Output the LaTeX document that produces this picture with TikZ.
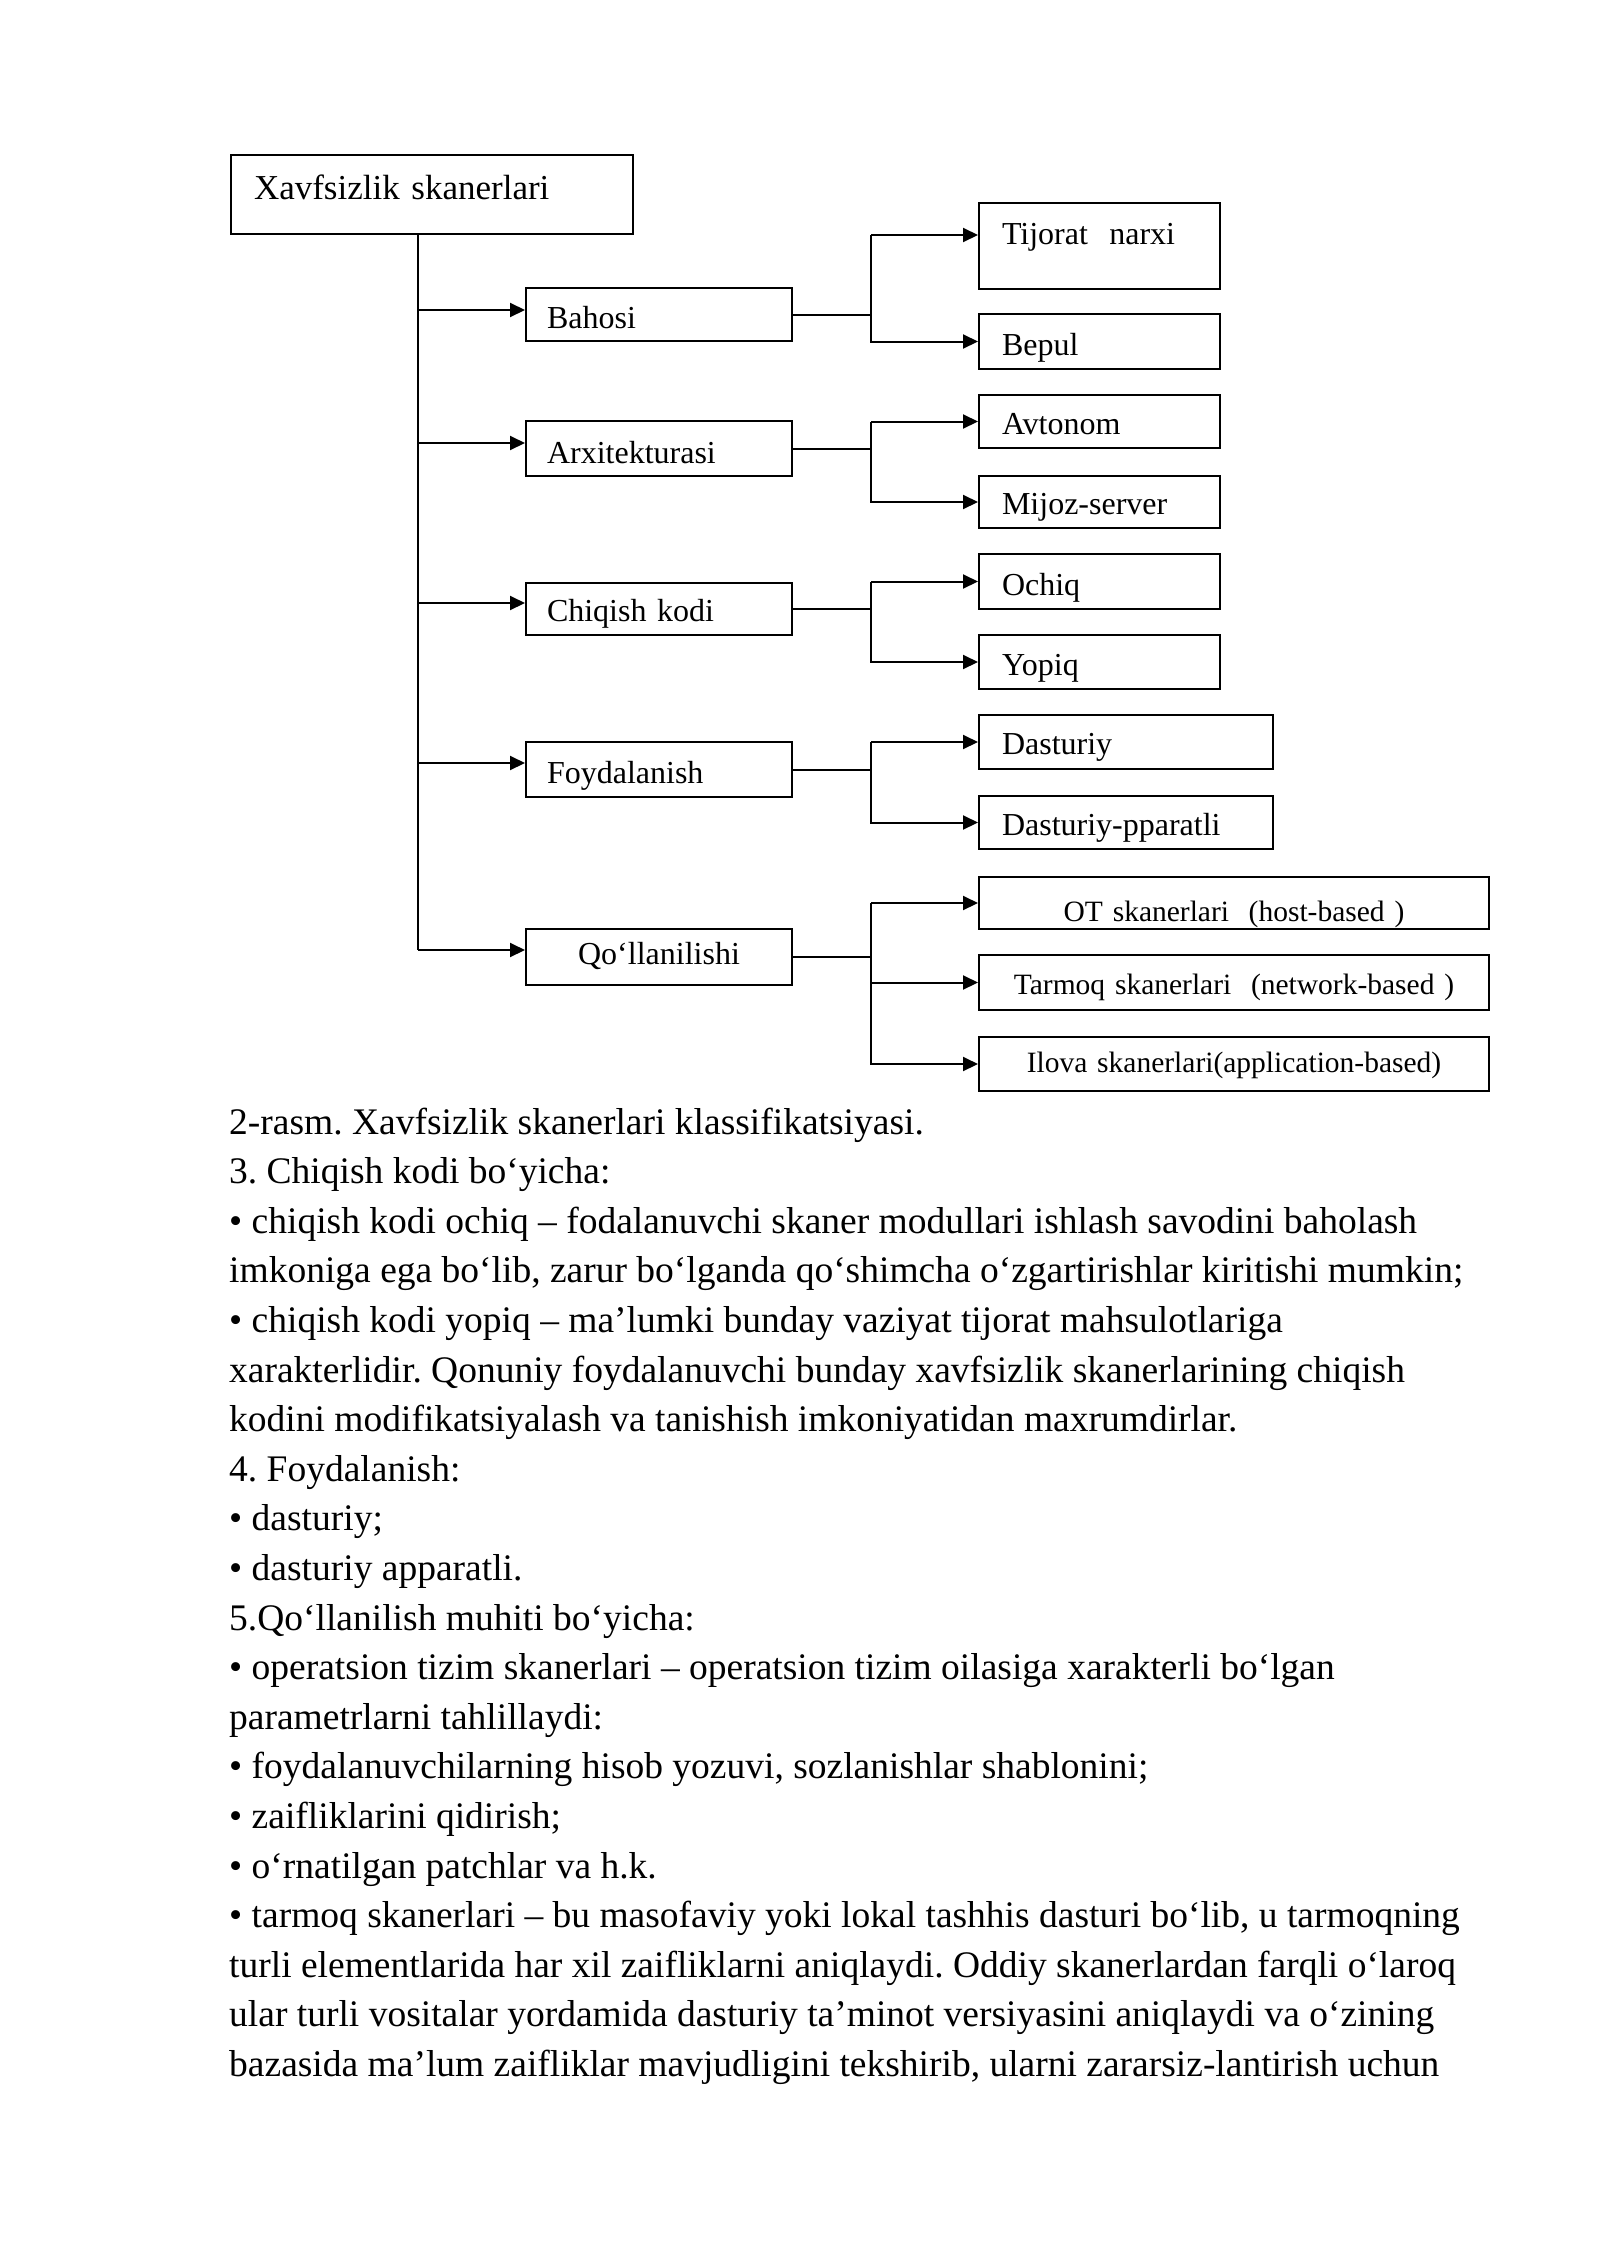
\documentclass[tikz,border=0pt]{standalone}
\usepackage{fontspec}
\setmainfont{Liberation Serif}
\usetikzlibrary{arrows.meta}
\frenchspacing
\newcommand\lblfont{\fontsize{32pt}{38pt}\selectfont}
\newcommand\ttlfont{\fontsize{35pt}{40pt}\selectfont}
\newcommand\smlfont{\fontsize{29.5pt}{35pt}\selectfont}
\newcommand\bodyfont{\fontsize{37.5pt}{49.6pt}\selectfont}
\begin{document}
\begin{tikzpicture}[x=1pt,y=-1pt,
  box/.style={draw,line width=2pt,anchor=north west,inner ysep=0pt,text depth=0pt,font=\lblfont,align=left},
  midbox/.style={box,minimum width=266pt,inner xsep=21pt,text width=224pt},
  rbox/.style={box,minimum width=241pt,inner xsep=23pt,text width=195pt},
  wbox/.style={box,minimum width=294pt,inner xsep=23pt,text width=248pt},
  xbox/.style={box,minimum width=510pt,inner xsep=20pt,text width=470pt,align=center,font=\smlfont},
  conn/.style={line width=2pt},
  arr/.style={conn,-{Triangle[length=15pt,width=14pt]}},
  body/.style={inner sep=0pt,anchor=base west,font=\bodyfont}]
\useasboundingbox (0,0) rectangle (1600,2262);
\fill[white] (0,0) rectangle (1600,2262);

% title
\node[box,minimum width=402pt,minimum height=79pt,text height=9pt,inner xsep=23pt,text width=356pt,font=\ttlfont] (title) at (230,154) {Xavfsizlik skanerlari};

% middle boxes
\node[midbox,minimum height=53pt,text height=27pt] (bahosi) at (525,287) {Bahosi};
\node[midbox,minimum height=55pt,text height=29pt] (arx) at (525,420) {Arxitekturasi};
\node[midbox,minimum height=52pt,text height=24pt] (chiq) at (525,582) {Chiqish kodi};
\node[midbox,minimum height=55pt,text height=27pt] (foyd) at (525,741) {Foydalanish};
\node[midbox,minimum height=56pt,text height=14pt,align=center] (qoll) at (525,928) {Qo‘llanilishi};

% right boxes
\node[rbox,minimum height=86pt,text height=0pt,text depth=4pt] (tij) at (978,202) {Tijorat~~narxi};
\node[rbox,minimum height=55pt,text height=27pt] (bepul) at (978,313) {Bepul};
\node[rbox,minimum height=53pt,text height=25pt] (avt) at (978,394) {Avtonom};
\node[rbox,minimum height=52pt,text height=24pt] (mij) at (978,475) {Mijoz-server};
\node[rbox,minimum height=55pt,text height=27pt] (och) at (978,553) {Ochiq};
\node[rbox,minimum height=54pt,text height=26pt] (yop) at (978,634) {Yopiq};
\node[wbox,minimum height=54pt,text height=24pt] (dast) at (978,714) {Dasturiy};
\node[wbox,minimum height=53pt,text height=25pt] (dpp) at (978,795) {Dasturiy-pparatli};
\node[xbox,minimum height=52pt,text height=36pt] (ot) at (978,876) {OT skanerlari~~(host-based~)};
\node[xbox,minimum height=55pt,text height=23pt] (tarm) at (978,954) {Tarmoq skanerlari~~(network-based~)};
\node[xbox,minimum height=54pt,text height=16pt] (ilova) at (978,1036) {Ilova skanerlari(application-based)\hspace*{24pt}};

% trunk
\coordinate (t1) at (418,310);
\coordinate (t2) at (418,443);
\coordinate (t3) at (418,603);
\coordinate (t4) at (418,763);
\coordinate (t5) at (418,950);
\draw[conn] (t1 |- title.south) -- (t5);
\draw[arr] (t1) -- (t1 -| bahosi.west);
\draw[arr] (t2) -- (t2 -| arx.west);
\draw[arr] (t3) -- (t3 -| chiq.west);
\draw[arr] (t4) -- (t4 -| foyd.west);
\draw[arr] (t5) -- (t5 -| qoll.west);

% forks
\coordinate (fx) at (871,0);
\coordinate (f1) at (871,235);
\draw[conn] (bahosi.east) -- (bahosi.east -| fx);
\draw[arr] (f1) -- (f1 -| tij.west);
\draw[arr] (f1) |- (bepul.west);

\draw[conn] (arx.east) -- (arx.east -| fx);
\draw[arr] (fx |- avt.west) -- (avt.west);
\draw[arr] (fx |- avt.west) |- (mij.west);

\draw[conn] (chiq.east) -- (chiq.east -| fx);
\draw[arr] (fx |- och.west) -- (och.west);
\draw[arr] (fx |- och.west) |- (yop.west);

\draw[conn] (foyd.east) -- (foyd.east -| fx);
\draw[arr] (fx |- dast.west) -- (dast.west);
\draw[arr] (fx |- dast.west) |- (dpp.west);

\draw[conn] (qoll.east) -- (qoll.east -| fx);
\draw[arr] (fx |- ot.west) -- (ot.west);
\draw[arr] (fx |- tarm.west) -- (tarm.west);
\draw[arr] (fx |- ot.west) |- (ilova.west);

% body text
\node[body] (l1) at (229,1134.0) {2-rasm. Xavfsizlik skanerlari klassifikatsiyasi.};
\node[body] (l2) at (229,1183.6) {3. Chiqish kodi bo‘yicha:};
\node[body] (l3) at (229,1233.2) {• chiqish kodi ochiq – fodalanuvchi skaner modullari ishlash savodini baholash};
\node[body] (l4) at (229,1282.8) {imkoniga ega bo‘lib, zarur bo‘lganda qo‘shimcha o‘zgartirishlar kiritishi mumkin;};
\node[body] (l5) at (229,1332.4) {• chiqish kodi yopiq – ma’lumki bunday vaziyat tijorat mahsulotlariga};
\node[body] (l6) at (229,1382.0) {xarakterlidir. Qonuniy foydalanuvchi bunday xavfsizlik skanerlarining chiqish};
\node[body] (l7) at (229,1431.6) {kodini modifikatsiyalash va tanishish imkoniyatidan maxrumdirlar.};
\node[body] (l8) at (229,1481.2) {4. Foydalanish:};
\node[body] (l9) at (229,1530.8) {• dasturiy;};
\node[body] (l10) at (229,1580.4) {• dasturiy apparatli.};
\node[body] (l11) at (229,1630.0) {5.Qo‘llanilish muhiti bo‘yicha:};
\node[body] (l12) at (229,1679.6) {• operatsion tizim skanerlari – operatsion tizim oilasiga xarakterli bo‘lgan};
\node[body] (l13) at (229,1729.2) {parametrlarni tahlillaydi:};
\node[body] (l14) at (229,1778.8) {• foydalanuvchilarning hisob yozuvi, sozlanishlar shablonini;};
\node[body] (l15) at (229,1828.4) {• zaifliklarini qidirish;};
\node[body] (l16) at (229,1878.0) {• o‘rnatilgan patchlar va h.k.};
\node[body] (l17) at (229,1927.6) {• tarmoq skanerlari – bu masofaviy yoki lokal tashhis dasturi bo‘lib, u tarmoqning};
\node[body] (l18) at (229,1977.2) {turli elementlarida har xil zaifliklarni aniqlaydi. Oddiy skanerlardan farqli o‘laroq};
\node[body] (l19) at (229,2026.8) {ular turli vositalar yordamida dasturiy ta’minot versiyasini aniqlaydi va o‘zining};
\node[body] (l20) at (229,2076.4) {bazasida ma’lum zaifliklar mavjudligini tekshirib, ularni zararsiz-lantirish uchun};
\end{tikzpicture}
\end{document}
